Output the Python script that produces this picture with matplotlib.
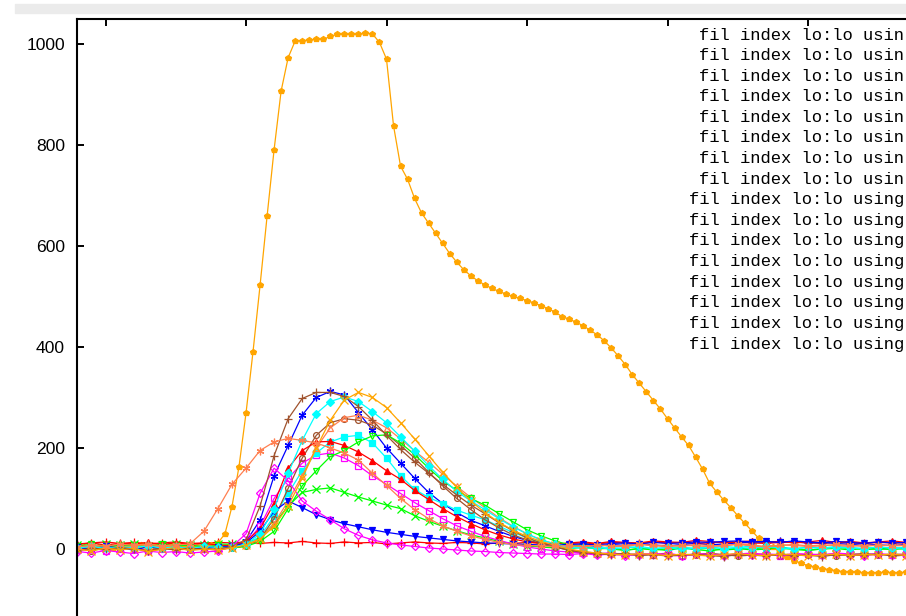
import numpy as np
import matplotlib
matplotlib.use("Agg")
import matplotlib.pyplot as plt
from matplotlib.patches import Rectangle

# shared x grid for the 15 small curves (step 2), fine grid for the big one
x_small = list(range(-4, 115, 2))
x_big = list(range(-4, 115))

red_plus = [10, 12, 14, 11, 13, 10, 12, 14, 11, 12, 13,
            12, 14, 11, 13, 12, 15, 12, 11, 14, 12, 13, 10, 12, 14, 12, 11, 13, 12, 10, 12, 11, 13, 12, 10,
            11, 12, 10, 13, 12, 11, 14, 12, 13, 11, 12, 14, 13, 12, 11, 13, 14, 12, 11, 13, 12, 11, 13, 12, 12]
green_x = [8, 5, 9, 7, 10, 6, 8, 9, 7, 8, 10,
           9, 12, 22, 50, 85, 112, 118, 121, 112, 103, 95, 87, 80, 66, 55, 45, 36, 28, 22, 15, 10, 6, 4, 2,
           1, 3, 0, 2, -2, 1, 0, -3, 2, 0, 1, -2, 0, 2, -1, 0, 1, -2, 0, 3, 1, -1, 0, 2, 0]
blue_star = [5, 8, 3, 7, 4, 6, 2, 5, 8, 4, 6,
             5, 15, 57, 145, 205, 265, 300, 312, 305, 270, 236, 200, 170, 140, 112, 90, 72, 57, 46, 35, 25, 17, 11, 8,
             6, 8, 5, 9, 7, 10, 8, 6, 9, 11, 8, 10, 12, 14, 13, 15, 14, 12, 13, 11, 9, 10, 8, 7, 9]
magenta_sq = [-2, 3, -4, 0, 2, -3, 1, -1, 3, 0, -2,
              5, 12, 45, 100, 140, 170, 186, 190, 180, 165, 145, 128, 110, 92, 76, 60, 46, 35, 25, 17, 10, 4, 0, -4,
              -6, -8, -10, -7, -12, -9, -11, -8, -13, -10, -9, -12, -10, -8, -11, -13, -9, -10, -12, -8, -10, -11, -9, -12, -10]
cyan_sq = [3, 6, 2, 5, 4, 7, 3, 5, 2, 6, 4,
           3, 8, 25, 65, 110, 155, 190, 212, 222, 225, 210, 180, 145, 118, 102, 90, 77, 67, 58, 45, 33, 22, 13, 6,
           2, 4, 1, 3, 5, 2, 0, 3, 4, 1, 2, 5, 3, 6, 2, 4, 1, 3, 2, 5, 3, 1, 4, 2, 3]
brown_circ = [0, -3, 2, -1, 1, -4, 0, 2, -2, 1, -1,
              2, 6, 20, 60, 120, 180, 225, 250, 258, 255, 245, 228, 205, 180, 152, 125, 100, 78, 58, 42, 28, 18, 10, 4,
              -2, -6, -8, -10, -9, -12, -11, -10, -13, -12, -9, -11, -14, -12, -10, -13, -11, -12, -10, -13, -11, -9, -12, -10, -11]
coral_tri = [4, 7, 5, 9, 6, 8, 5, 7, 9, 6, 8,
             3, 8, 20, 50, 95, 145, 200, 240, 260, 265, 255, 240, 218, 194, 172, 148, 124, 102, 82, 62, 45, 30, 18, 10,
             8, 6, 9, 5, 7, 10, 6, 8, 5, 9, 7, 6, 10, 8, 5, 7, 9, 6, 8, 7, 5, 9, 6, 8, 7]
red_tri = [9, 12, 8, 11, 10, 13, 9, 12, 10, 11, 8,
           6, 15, 40, 90, 160, 195, 212, 213, 205, 192, 175, 155, 138, 116, 98, 80, 64, 50, 38, 28, 20, 14, 11, 10,
           12, 14, 11, 15, 13, 12, 16, 14, 13, 17, 15, 12, 14, 16, 13, 15, 12, 14, 17, 13, 15, 12, 14, 16, 13]
green_vtri = [6, 9, 4, 8, 7, 5, 9, 6, 8, 4, 7,
              2, 5, 15, 35, 80, 125, 155, 183, 195, 212, 224, 226, 210, 187, 160, 135, 116, 100, 87, 70, 54, 38, 26, 16,
              8, 4, 2, 0, -3, 1, -2, 0, 2, -1, -4, 0, 1, -2, 0, 3, -1, -3, 0, 1, -2, 2, 0, -1, 1]
blue_vtri = [3, 0, 5, 2, -2, 4, 1, 3, 0, 2, 4,
             5, 12, 35, 75, 95, 82, 68, 58, 50, 44, 38, 33, 29, 25, 22, 19, 16, 14, 12, 11, 10, 9, 8, 8,
             9, 10, 8, 11, 12, 10, 13, 11, 12, 14, 13, 15, 16, 14, 15, 13, 16, 14, 12, 15, 13, 11, 14, 12, 13]
magenta_dia = [-5, -8, -3, -6, -9, -4, -7, -5, -8, -6, -4,
               5, 30, 110, 160, 135, 95, 75, 58, 40, 27, 18, 12, 8, 5, 2, 0, -2, -4, -5, -7, -8, -9, -10, -10,
               -11, -9, -12, -10, -13, -11, -9, -12, -14, -10, -11, -13, -9, -12, -10, -11, -13, -10, -12, -9, -11, -13, -10, -12, -11]
cyan_dia = [2, 5, 1, 4, 3, 6, 2, 4, 1, 5, 3,
            3, 10, 30, 80, 150, 215, 268, 292, 301, 292, 272, 250, 222, 194, 165, 138, 114, 95, 78, 60, 44, 30, 18, 10,
            4, 1, 3, 0, 2, 5, 1, 3, -1, 2, 4, 0, 3, 1, 5, 2, 0, 4, 1, 3, 2, 0, 4, 1, 2]
brown_plus = [-4, 2, -1, 3, 0, -3, 1, -2, 2, -1, 0,
              5, 18, 85, 185, 258, 298, 310, 310, 302, 282, 255, 225, 197, 172, 150, 128, 107, 87, 70, 52, 36, 22, 12, 4,
              -3, -7, -9, -12, -10, -13, -11, -14, -12, -10, -13, -15, -11, -12, -14, -10, -13, -12, -15, -11, -13, -12, -10, -14, -12]
orange_x = [0, -4, 2, -2, 1, -5, -1, 3, -3, 0, -2,
            2, 8, 20, 45, 85, 140, 200, 255, 295, 310, 300, 280, 250, 218, 185, 152, 122, 95, 72, 53, 37, 25, 15, 7,
            0, -5, -8, -10, -12, -9, -11, -13, -10, -12, -14, -11, -9, -12, -13, -10, -11, -14, -12, -10, -13, -11, -12, -10, -13]
coral_star = [4, 8, 5, 10, 7, 9, 6, 8, 10, 35, 80,
              128, 160, 195, 212, 219, 215, 210, 200, 190, 176, 150, 126, 100, 78, 60, 46, 35, 26, 19, 13, 9, 7, 6, 5,
              7, 4, 8, 6, 5, 9, 7, 4, 8, 6, 5, 7, 9, 6, 4, 8, 7, 5, 6, 9, 7, 5, 8, 6, 7]

orange_big = [5, 3, 7, 4, 8, 2, 6, 5, 3, 7, 4, 6, 2, 5, 8, 4, 6, 3, 5, 7, 12,
              30, 84, 163, 269, 391, 522, 659, 791, 907, 973,
              1006, 1006, 1008, 1009, 1009, 1015, 1019, 1019, 1019, 1019,
              1021, 1020, 1003, 970, 838, 758, 732, 694, 665,
              645, 625, 605, 585, 568, 553, 541, 531, 523, 516,
              510, 505, 500, 496, 492, 487, 482, 476, 469, 460,
              455, 449, 442, 433, 424, 412, 398, 382, 365, 345,
              328, 311, 294, 277, 258, 240, 222, 205, 182, 158,
              130, 113, 97, 82, 66, 51, 36, 21, 11, 4,
              -6, -15, -23, -28, -33, -36, -39, -41, -43, -45,
              -46, -46, -47, -47, -47, -46, -47, -47, -46]

# key titles as far as they show before the right edge of the picture
legend_labels = ["fil index lo:lo usin"] * 8 + ["fil index lo:lo using"] * 8
legend_x = [699] * 8 + [689] * 8

RED, GREEN, BLUE, MAGENTA = "#ff0000", "#00ff00", "#0000ff", "#ff00ff"
CYAN, SIENNA, ORANGE, CORAL = "#00ffff", "#a0522d", "#ffa500", "#ff7f50"
ast = (6, 2, 0)

series = [
    (red_plus, RED, "+", True),
    (green_x, GREEN, "x", True),
    (blue_star, BLUE, ast, True),
    (magenta_sq, MAGENTA, "s", False),
    (cyan_sq, CYAN, "s", True),
    (brown_circ, SIENNA, "o", False),
    (orange_big, ORANGE, "p", True),
    (coral_tri, CORAL, "^", False),
    (red_tri, RED, "^", True),
    (green_vtri, GREEN, "v", False),
    (blue_vtri, BLUE, "v", True),
    (magenta_dia, MAGENTA, "D", False),
    (cyan_dia, CYAN, "D", True),
    (brown_plus, SIENNA, "+", True),
    (orange_x, ORANGE, "x", True),
    (coral_star, CORAL, ast, True),
]

fig = plt.figure(figsize=(9.06, 6.16), dpi=100)
fig.patches.append(Rectangle((15 / 906, 1 - 12.7 / 616), 1, 8.7 / 616,
                             transform=fig.transFigure, color="#ebebeb", zorder=0))

# axes run past the right and bottom edges, like the cropped original
ax = fig.add_axes([76.5 / 906, -0.05519, 872 / 906, 1.02483])

for ys, col, mk, filled in series:
    xs = x_big if ys is orange_big else x_small
    size = 4.2 if mk in ("s", "D", "o", "^", "v", "p") else 5.5
    ax.plot(xs, ys, color=col, lw=0.9, marker=mk, ms=size, mew=0.9,
            mfc=col if filled else "none", mec=col)

ax.set_xlim(-4.13, 120)
ax.set_ylim(-200, 1050)
ax.set_yticks([0, 200, 400, 600, 800, 1000])
ax.set_xticks([0, 20, 40, 60, 80, 100])
ax.tick_params(direction="in", length=5, width=1.4, top=True, right=True,
               labelbottom=False, labelsize=12.6, pad=8.3)
for lab in ax.get_yticklabels():
    lab.set_family("Liberation Sans")
for sp in ax.spines.values():
    sp.set_linewidth(1.5)

for i, txt in enumerate(legend_labels):
    y = 1 - (35 + 20.6 * i) / 616
    fig.text(legend_x[i] / 906, y, txt, ha="left", va="center",
             family="Liberation Mono", fontsize=12.35)

fig.savefig("out.png", dpi=100)
